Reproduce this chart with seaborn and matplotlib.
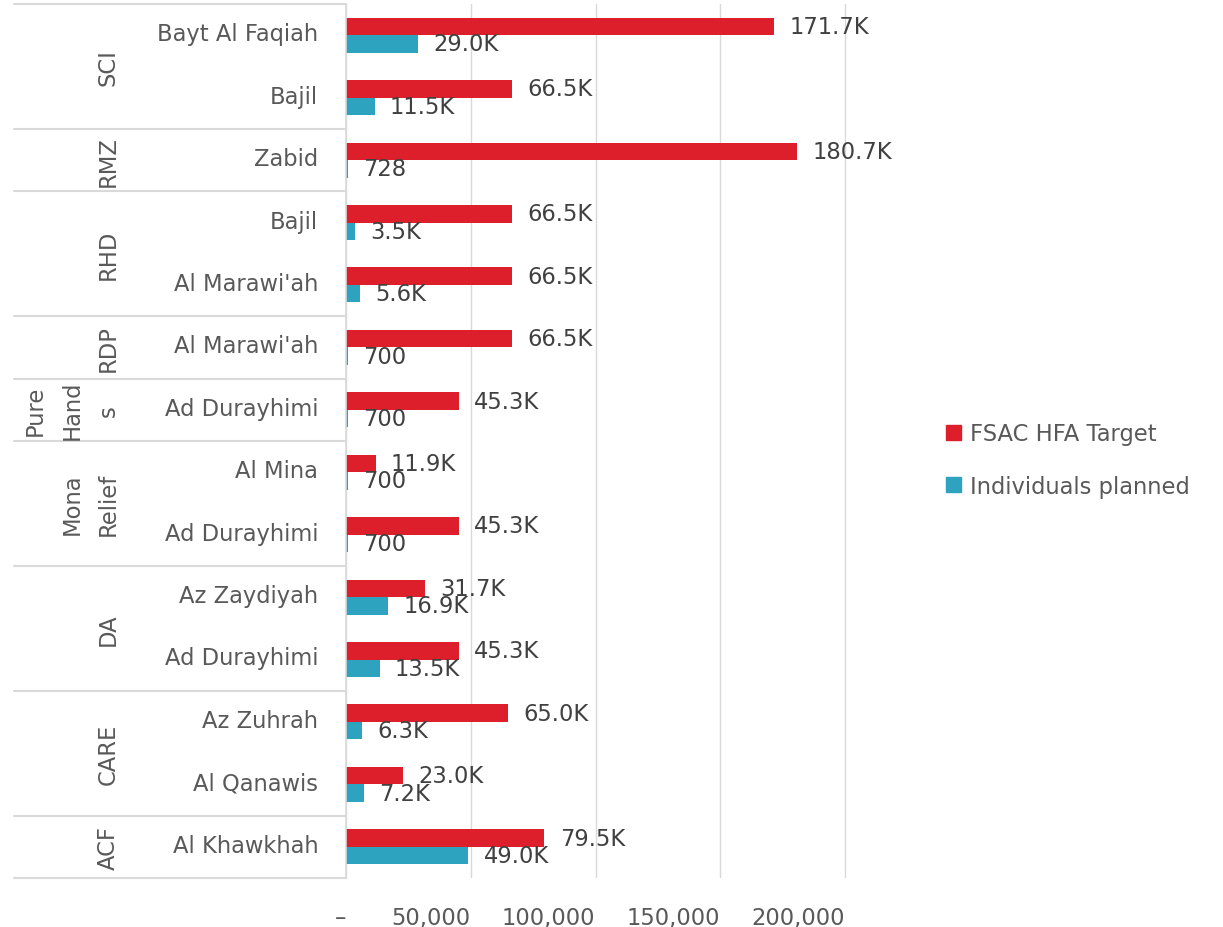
import matplotlib
matplotlib.use('Agg')
import matplotlib.pyplot as plt
import matplotlib.transforms as mtransforms
from matplotlib.patches import Patch
import seaborn as sns
import pandas as pd

# rows from top to bottom
orgs = ['SCI', 'SCI', 'RMZ', 'RHD', 'RHD', 'RDP', 'Pure Hands',
        'Mona Relief', 'Mona Relief', 'DA', 'DA', 'CARE', 'CARE', 'ACF']
districts = ['Bayt Al Faqiah', 'Bajil', 'Zabid', 'Bajil', "Al Marawi'ah",
             "Al Marawi'ah", 'Ad Durayhimi', 'Al Mina', 'Ad Durayhimi',
             'Az Zaydiyah', 'Ad Durayhimi', 'Az Zuhrah', 'Al Qanawis',
             'Al Khawkhah']
fsac_target = [171700, 66500, 180700, 66500, 66500, 66500, 45300,
               11900, 45300, 31700, 45300, 65000, 23000, 79500]
planned = [29000, 11500, 728, 3500, 5600, 700, 700,
           700, 700, 16900, 13500, 6300, 7200, 49000]
series_names = ['FSAC HFA Target', 'Individuals planned']
group_text = {'Pure Hands': 'Pure\nHand\ns', 'Mona Relief': 'Mona\nRelief'}
x_ticks = [0, 50000, 100000, 150000, 200000]
x_ticklabels = ['–', '50,000', '100,000', '150,000', '200,000']

RED = '#DC1F2A'
TEAL = '#2EA3C0'
TEXT = '#595959'
GRID = '#D9D9D9'

sns.set_style('white')
plt.rcParams['font.family'] = ['DejaVu Sans']
FS = 16.3

rows = [f'{o} / {d}' for o, d in zip(orgs, districts)]
df = pd.DataFrame({'row': rows, series_names[0]: fsac_target,
                   series_names[1]: planned})
long_df = df.melt(id_vars='row', var_name='series', value_name='value')

fig = plt.figure(figsize=(12.23, 9.28), dpi=100)
ax = fig.add_axes([346 / 1223, 1 - 879 / 928, 549 / 1223, 874 / 928])

sns.barplot(data=long_df, y='row', x='value', hue='series', orient='h',
            palette=[RED, TEAL], width=0.56, gap=0, saturation=1,
            linewidth=0, legend=False, ax=ax)

def fmt(v):
    return f'{v / 1000:.1f}K' if v >= 1000 else f'{v:d}'

for cont, vals in zip(ax.containers, [fsac_target, planned]):
    ax.bar_label(cont, labels=[fmt(v) for v in vals], padding=11,
                 fontsize=FS, color='#404040')

ax.set_xlim(0, 220000)
ax.set_ylim(13.5, -0.5)
ax.set_xticks(x_ticks)
ax.set_xticklabels(x_ticklabels, ha='right')
ax.set_yticks(range(len(rows)))
ax.set_yticklabels(districts)
ax.tick_params(axis='x', length=0, pad=20, labelsize=FS, labelcolor=TEXT)
ax.tick_params(axis='y', length=0, pad=20, labelsize=FS, labelcolor=TEXT)
# district labels sit a little above the row centre
shift_up = mtransforms.ScaledTranslation(0, 4 / 100, fig.dpi_scale_trans)
for lab in ax.get_yticklabels():
    lab.set_transform(lab.get_transform() + shift_up)
ax.set_xlabel('')
ax.set_ylabel('')
ax.grid(axis='x', color=GRID, lw=1)
ax.set_axisbelow(True)
for s in ['top', 'right', 'bottom']:
    ax.spines[s].set_visible(False)
ax.spines['left'].set_color(GRID)
ax.spines['left'].set_linewidth(1.2)

# hierarchical category labels
trans = mtransforms.blended_transform_factory(ax.transAxes, ax.transData)
x_line0 = (14 - 346) / 549
x_grp = (120 - 346) / 549
bounds = [-0.5]
start = 0
for i in range(1, len(orgs) + 1):
    if i == len(orgs) or orgs[i] != orgs[start]:
        bounds.append(i - 0.5)
        mid = (start + i - 1) / 2
        ax.text(x_grp, mid, group_text.get(orgs[start], orgs[start]),
                rotation=90, ha='right', va='center', multialignment='center',
                fontsize=FS, color=TEXT, transform=trans, linespacing=1.75)
        start = i
for b in bounds:
    ax.plot([x_line0, 0], [b, b], color=GRID, lw=1.5, transform=trans,
            clip_on=False)

handles = [Patch(color=RED), Patch(color=TEAL)]
fig.legend(handles, series_names, loc='center left',
           bbox_to_anchor=(926 / 1223, 1 - 461 / 928), frameon=False,
           fontsize=FS, labelcolor=TEXT, handlelength=0.65, handleheight=0.65,
           handletextpad=0.4, labelspacing=1.3)

fig.savefig('out.png', dpi=100)
